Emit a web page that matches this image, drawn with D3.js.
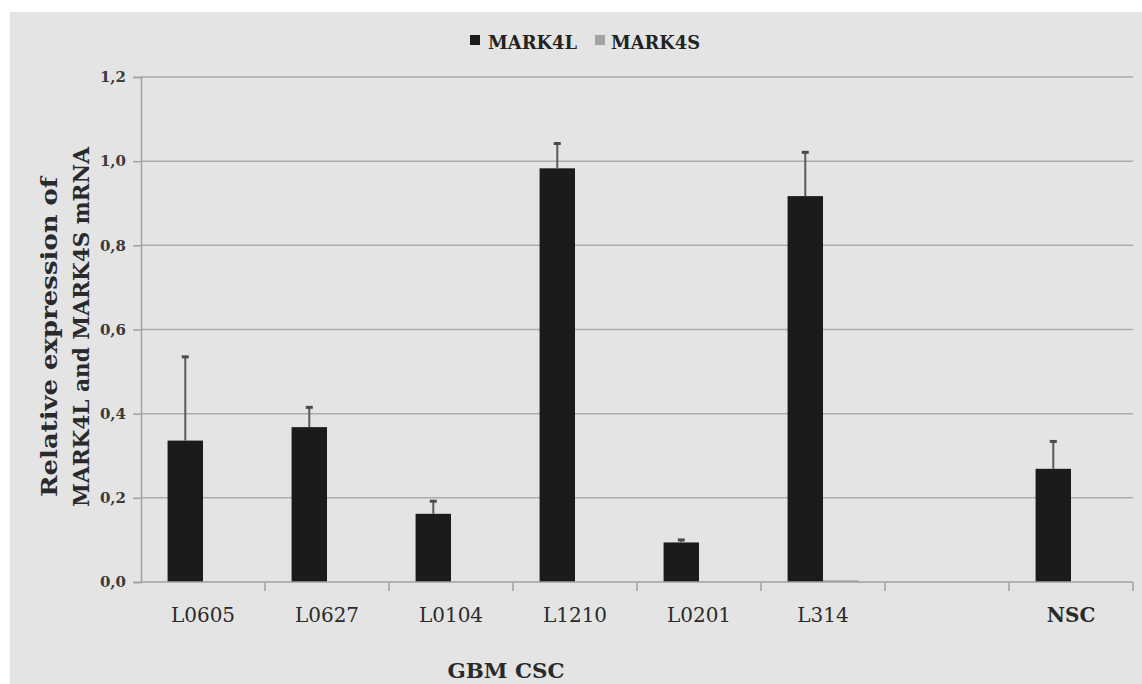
<!DOCTYPE html>
<html>
<head>
<meta charset="utf-8">
<script src="https://cdn.jsdelivr.net/npm/d3@7/dist/d3.min.js"></script>
<style>
  html, body { margin: 0; padding: 0; background: #ffffff; }
  svg { display: block; }
  text { font-family: "DejaVu Serif", "Liberation Serif", serif; }
</style>
</head>
<body>
<svg id="chart" width="1142" height="684"></svg>
<script>
// Cell lines (the blank slot separates the GBM CSC lines from NSC)
const categories = ["L0605", "L0627", "L0104", "L1210", "L0201", "L314", "", "NSC"];
const seriesNames = ["MARK4L", "MARK4S"];
const mark4L = [0.336, 0.368, 0.162, 0.983, 0.094, 0.917, null, 0.269];
const mark4LErr = [0.199, 0.047, 0.030, 0.059, 0.006, 0.104, null, 0.065];
const mark4S = [0, 0, 0, 0, 0, 0.004, null, 0];
const mark4SErr = [null, null, null, null, null, null, null, null];
const yTicks = [0, 0.2, 0.4, 0.6, 0.8, 1.0, 1.2];
const yTitleLines = ["Relative expression of", "MARK4L and MARK4S mRNA"];
const xTitle = "GBM CSC";

const colors = { MARK4L: "#1b1b1b", MARK4S: "#a3a3a3" };

const svg = d3.select("#chart");
const W = 1142, H = 684;
const plot = { left: 141, right: 1133, top: 77, bottom: 582 };

// panel background
svg.append("rect").attr("x", 10).attr("y", 12).attr("width", W - 10).attr("height", H - 12)
  .attr("fill", "#e4e4e4");

const x0 = d3.scaleBand().domain(categories).range([plot.left, plot.right]).paddingInner(0).paddingOuter(0);
// Excel-style gap: 150% of a bar width split around the pair of bars
const x1 = d3.scaleBand().domain(seriesNames).range([0, x0.bandwidth()]).paddingInner(0).paddingOuter(0.75);
const y = d3.scaleLinear().domain([0, 1.2]).range([plot.bottom, plot.top]);

// gridlines
svg.append("g").selectAll("line").data(yTicks.filter(d => d > 0)).join("line")
  .attr("x1", plot.left).attr("x2", plot.right)
  .attr("y1", d => y(d)).attr("y2", d => y(d))
  .attr("stroke", "#ababab").attr("stroke-width", 1.5);

// y axis
const yAxis = svg.append("g").attr("transform", `translate(${plot.left},0)`)
  .call(d3.axisLeft(y).tickValues(yTicks).tickSize(8).tickPadding(7)
    .tickFormat(d => d3.format(".1f")(d).replace(".", ",")));
yAxis.select(".domain").attr("stroke", "#a0a0a0").attr("stroke-width", 1.5);
yAxis.selectAll(".tick line").attr("stroke", "#a0a0a0").attr("stroke-width", 1.5);
yAxis.selectAll(".tick text").attr("font-size", 15).attr("font-weight", "bold").attr("fill", "#3a3a3a");

// bars
const rows = categories.map((c, i) => ({
  cat: c,
  vals: [
    { s: "MARK4L", v: mark4L[i], e: mark4LErr[i] },
    { s: "MARK4S", v: mark4S[i], e: mark4SErr[i] }
  ]
}));

const groups = svg.append("g").selectAll("g").data(rows).join("g")
  .attr("transform", d => `translate(${x0(d.cat)},0)`);

groups.selectAll("rect").data(d => d.vals.filter(v => v.v != null)).join("rect")
  .attr("x", d => x1(d.s))
  .attr("width", x1.bandwidth())
  .attr("y", d => y(d.v))
  .attr("height", d => y(0) - y(d.v))
  .attr("fill", d => colors[d.s]);

// upper error bars
const errs = groups.selectAll("g.err").data(d => d.vals.filter(v => v.v != null && v.e != null)).join("g")
  .attr("class", "err");
errs.append("line")
  .attr("x1", d => x1(d.s) + x1.bandwidth() / 2).attr("x2", d => x1(d.s) + x1.bandwidth() / 2)
  .attr("y1", d => y(d.v)).attr("y2", d => y(d.v + d.e))
  .attr("stroke", "#5a5a5a").attr("stroke-width", 2);
errs.append("line")
  .attr("x1", d => x1(d.s) + x1.bandwidth() / 2 - 3.5).attr("x2", d => x1(d.s) + x1.bandwidth() / 2 + 3.5)
  .attr("y1", d => y(d.v + d.e)).attr("y2", d => y(d.v + d.e))
  .attr("stroke", "#4a4a4a").attr("stroke-width", 3);

// x axis
const xAxis = svg.append("g").attr("transform", `translate(0,${plot.bottom})`)
  .call(d3.axisBottom(x0).tickSize(0).tickPadding(26));
xAxis.select(".domain").remove();
xAxis.append("line").attr("x1", plot.left).attr("x2", plot.right).attr("y1", 0).attr("y2", 0)
  .attr("stroke", "#a0a0a0").attr("stroke-width", 1.5);
// category boundary ticks
const bounds = categories.map(c => x0(c)).concat([plot.right]);
xAxis.selectAll("line.bound").data(bounds.slice(1)).join("line").attr("class", "bound")
  .attr("x1", d => d).attr("x2", d => d).attr("y1", 0).attr("y2", 9)
  .attr("stroke", "#a0a0a0").attr("stroke-width", 1.5);
xAxis.selectAll(".tick text").attr("font-size", 20).attr("fill", "#2a2a2a")
  .attr("font-weight", d => d === "NSC" ? "bold" : "normal");

// axis titles
const yTitleX = [57, 89];
const yTitleY = [337, 327];
const yTitleLen = [320, 360];
yTitleLines.forEach((t, i) => {
  svg.append("text")
    .attr("transform", `translate(${yTitleX[i]},${yTitleY[i]}) rotate(-90)`)
    .attr("text-anchor", "middle")
    .attr("font-weight", "bold").attr("font-size", 23).attr("fill", "#2a2a2a")
    .attr("textLength", yTitleLen[i]).attr("lengthAdjust", "spacingAndGlyphs")
    .text(t);
});

svg.append("text").attr("x", 506).attr("y", 678).attr("text-anchor", "middle")
  .attr("font-weight", "bold").attr("font-size", 21).attr("fill", "#2a2a2a")
  .attr("textLength", 117).attr("lengthAdjust", "spacingAndGlyphs")
  .text(xTitle);

// legend
const legendPos = [{ sx: 470, tx: 488 }, { sx: 595, tx: 611 }];
const lg = svg.append("g").selectAll("g").data(seriesNames).join("g");
lg.append("rect").attr("x", (d, i) => legendPos[i].sx).attr("y", 35).attr("width", 10).attr("height", 10)
  .attr("fill", d => colors[d]);
lg.append("text").attr("x", (d, i) => legendPos[i].tx).attr("y", 49)
  .attr("font-size", 19).attr("font-weight", 600).attr("fill", "#222")
  .attr("textLength", 89).attr("lengthAdjust", "spacingAndGlyphs")
  .text(d => d);
</script>
</body>
</html>
